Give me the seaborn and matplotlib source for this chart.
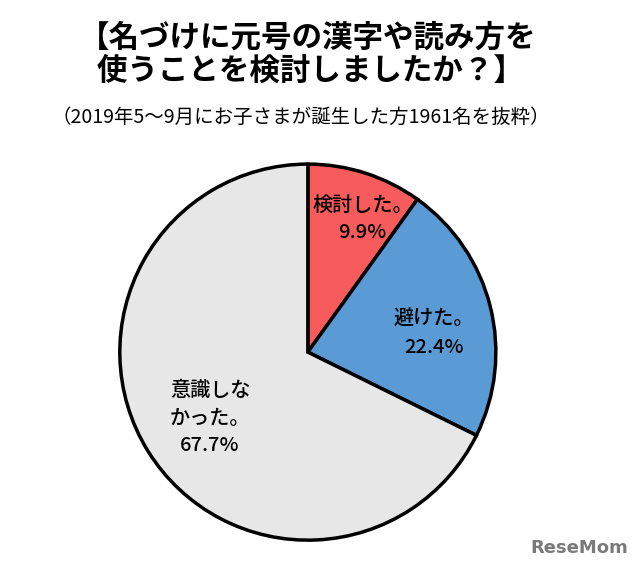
import matplotlib
matplotlib.use("Agg")
import matplotlib.pyplot as plt
import seaborn as sns

labels = ["検討した。", "避けた。", "意識しな\nかった。"]
values = [9.9, 22.4, 67.7]
colors = ["#F75B5B", "#5B9BD5", "#E7E7E7"]

sns.set_theme(style="white")
plt.rcParams['font.family'] = ['Noto Sans CJK JP', 'DejaVu Sans']
plt.rcParams['text.color'] = 'black'

fig = plt.figure(figsize=(6.4, 5.72), dpi=100)
fig.patch.set_facecolor("white")

fig.text(0.48, 0.906, "【名づけに元号の漢字や読み方を\n 使うことを検討しましたか？】",
         ha="center", va="center", fontsize=22, fontweight="bold", linespacing=1.05)
fig.text(0.47, 0.795, "（2019年5～9月にお子さまが誕生した方1961名を抜粋）",
         ha="center", va="center", fontsize=14)

ax = fig.add_axes([0.184, 0.0524, 0.594, 0.664])
wedges, _ = ax.pie(values, colors=colors, startangle=90, counterclock=False,
                   wedgeprops=dict(edgecolor="black", linewidth=2.5))
ax.set_xlim(-1.01, 1.01)
ax.set_ylim(-1.01, 1.01)
ax.set_aspect("equal")

label_pos = [(0.29, 0.71), (0.67, 0.10), (-0.52, -0.35)]
for lab, v, (x, y) in zip(labels, values, label_pos):
    ax.text(x, y, f"{lab}\n{v}%", ha="center", va="center", fontsize=14.5,
            fontweight="medium", linespacing=1.55)

fig.text(0.905, 0.042, "ReseMom", ha="center", va="center", fontsize=13,
         fontweight="bold", color="#7a7a7a", family=["DejaVu Sans"])

fig.savefig("out.png", dpi=100, facecolor="white")
